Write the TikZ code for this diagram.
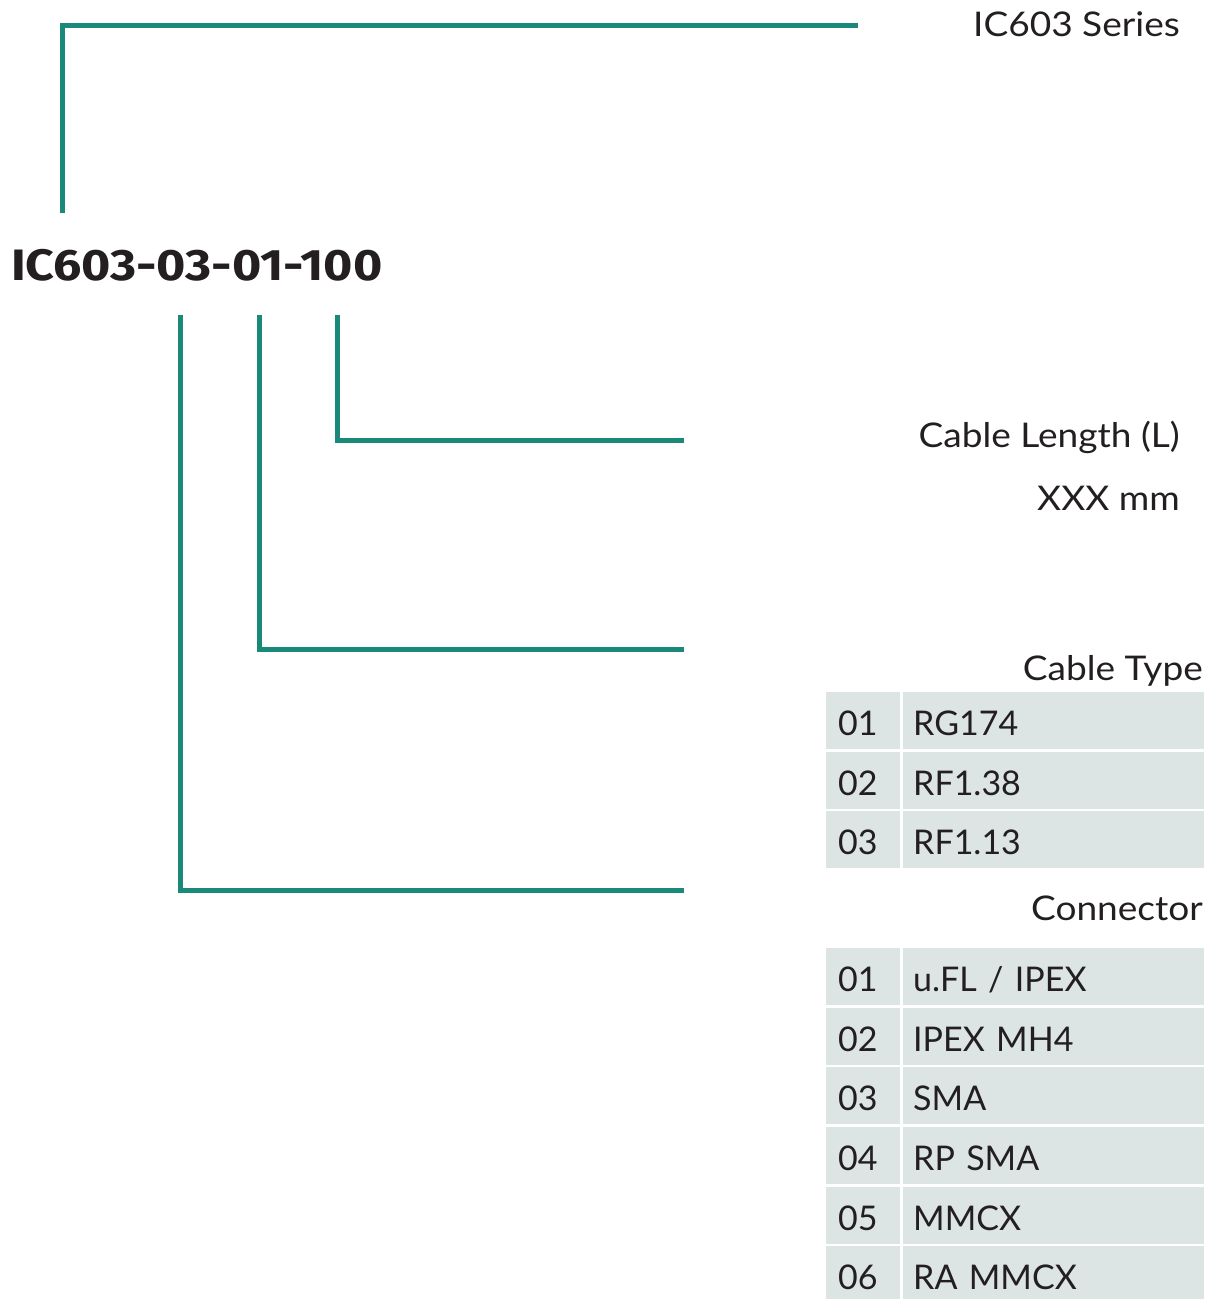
\documentclass[tikz,border=0pt]{standalone}
\usepackage{fontspec}
\setmainfont{Lato}
\newfontfamily\labelfont[FakeStretch=1.09]{Lato}
\newfontfamily\titlefont{Fira Sans}
\definecolor{teal}{RGB}{26,137,122}
\definecolor{cellfill}{RGB}{220,229,227}
\definecolor{ink}{RGB}{35,31,32}
\tikzset{
  lead/.style={draw=teal, line width=5pt},
  lbl/.style={inner sep=0pt, text=ink, font=\labelfont\fontsize{34}{40}\selectfont, anchor=base east},
  numcell/.style={fill=cellfill, text=ink, font=\fontsize{34}{40}\selectfont, minimum width=74pt, minimum height=57pt, text width=50pt, inner xsep=12pt, inner ysep=0pt, text height=30pt, text depth=0pt, align=left, anchor=north west},
  itemcell/.style={numcell, minimum width=301pt, text width=281pt, inner xsep=10pt},
}
\begin{document}
\begin{tikzpicture}[x=1pt,y=-1pt]
\useasboundingbox (0,0) rectangle (1219,1299);
% title
\node[inner sep=0pt, anchor=base west, text=ink, font=\titlefont\bfseries\fontsize{44}{50}\selectfont] (title) at (11,280) {\scalebox{1.14}[1]{IC603-03-01-100}};
% labels
\node[lbl] (series) at (1180,36) {IC603 Series};
\node[lbl] (length) at (1180,447) {Cable Length (L)};
\node[lbl] (xxx) at (1180,510) {XXX mm};
\node[lbl] (ctype) at (1203,680) {Cable Type};
\node[lbl] (conn) at (1203,920) {Connector};
% leader lines
\coordinate (s0) at (62,213);
\coordinate (s1) at (858,25);
\coordinate (l0) at (337,315);
\coordinate (l1) at (684,440);
\coordinate (t0) at (259,315);
\coordinate (t1) at (684,649);
\coordinate (c0) at (180,315);
\coordinate (c1) at (684,890);
\draw[lead] (s0) |- (s1);
\draw[lead] (l0) |- (l1);
\draw[lead] (t0) |- (t1);
\draw[lead] (c0) |- (c1);
% cable type table
\node[numcell] (ta1) at (826,692) {01};
\node[itemcell] (tb1) at (903,692) {RG174};
\node[numcell] (ta2) at (826,751.5) {02};
\node[itemcell] (tb2) at (903,751.5) {RF1.38};
\node[numcell] (ta3) at (826,811) {03};
\node[itemcell] (tb3) at (903,811) {RF1.13};
% connector table
\node[numcell] (ca1) at (826,948) {01};
\node[itemcell] (cb1) at (903,948) {u.FL / IPEX};
\node[numcell] (ca2) at (826,1007.6) {02};
\node[itemcell] (cb2) at (903,1007.6) {IPEX MH4};
\node[numcell] (ca3) at (826,1067.2) {03};
\node[itemcell] (cb3) at (903,1067.2) {SMA};
\node[numcell] (ca4) at (826,1126.8) {04};
\node[itemcell] (cb4) at (903,1126.8) {RP SMA};
\node[numcell] (ca5) at (826,1186.4) {05};
\node[itemcell] (cb5) at (903,1186.4) {MMCX};
\node[numcell] (ca6) at (826,1246) {06};
\node[itemcell] (cb6) at (903,1246) {RA MMCX};
\end{tikzpicture}
\end{document}
